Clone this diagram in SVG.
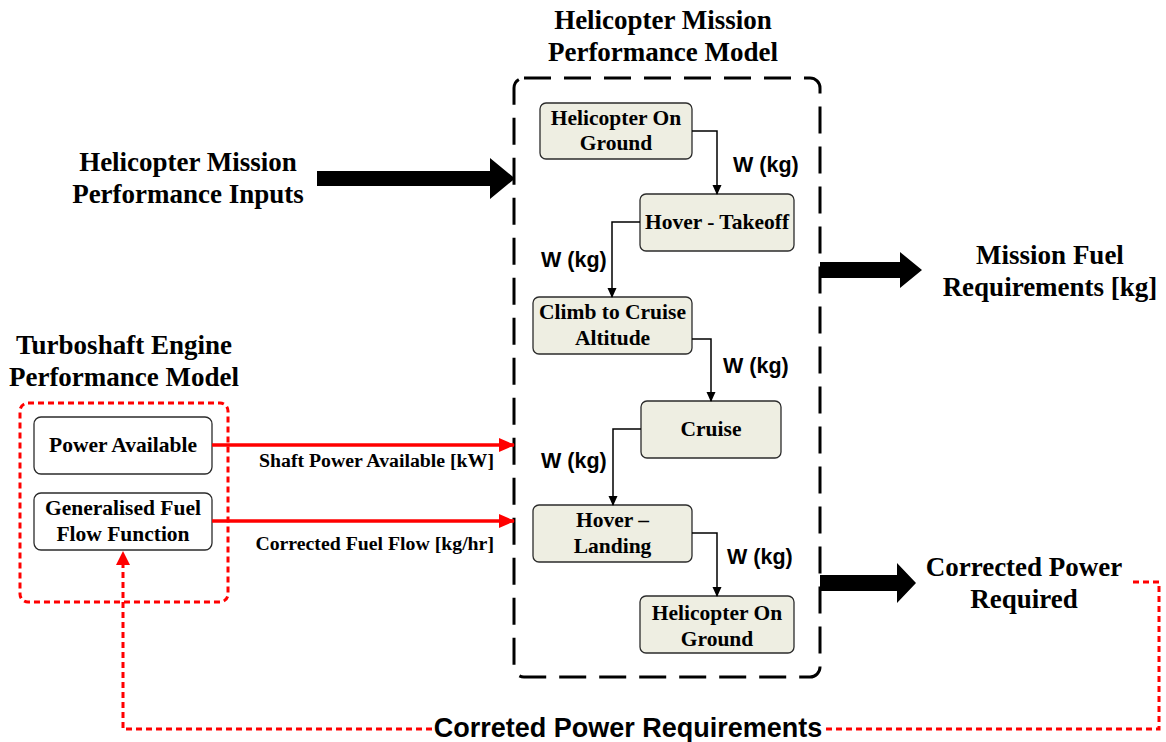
<svg xmlns="http://www.w3.org/2000/svg" width="1166" height="742" viewBox="0 0 1166 742">
  <defs>
    <style>
      .title { font-family: "Liberation Serif", "Times New Roman", serif; font-weight: bold; font-size: 27px; fill: #000; text-anchor: middle; }
      .ntext { font-family: "Liberation Serif", "Times New Roman", serif; font-weight: bold; font-size: 21.5px; fill: #000; text-anchor: middle; }
      .elabel { font-family: "Liberation Serif", "Times New Roman", serif; font-weight: bold; font-size: 19.8px; fill: #000; }
      .wlabel { font-family: "Liberation Sans", Arial, sans-serif; font-weight: bold; font-size: 21.5px; fill: #000; }
      .bottom { font-family: "Liberation Sans", Arial, sans-serif; font-weight: bold; font-size: 27px; fill: #000; text-anchor: middle; }
      .stage { fill: #eeeee2; stroke: #2b2b2b; stroke-width: 1.3; }
      .engine { fill: #ffffff; stroke: #2b2b2b; stroke-width: 1.3; }
      .flow { fill: none; stroke: #000; stroke-width: 1.5; }
      .red { fill: none; stroke: #ff0000; stroke-width: 3.5; }
      .reddot { fill: none; stroke: #ff0000; stroke-width: 3; stroke-dasharray: 6 4; }
      .boundary { fill: none; stroke: #000; stroke-width: 3; stroke-dasharray: 27 13; }
      .fat { fill: #000; }
    </style>
    <marker id="arrowBlack" markerWidth="10" markerHeight="10" refX="9" refY="5" orient="auto" markerUnits="userSpaceOnUse">
      <path d="M0,0.5 L10,5 L0,9.5 Z" fill="#000"/>
    </marker>
    <marker id="arrowRed" markerWidth="16" markerHeight="16" refX="15" refY="8" orient="auto" markerUnits="userSpaceOnUse">
      <path d="M0,1 L16,8 L0,15 Z" fill="#ff0000"/>
    </marker>
  </defs>

  <rect width="1166" height="742" fill="#ffffff"/>

  <!-- mission model boundary -->
  <g id="mission-model">
    <rect class="boundary" x="514" y="78" width="306" height="599" rx="10"/>
    <text class="title" x="663" y="29">Helicopter Mission</text>
    <text class="title" x="663" y="61">Performance Model</text>
  </g>

  <!-- engine model boundary -->
  <g id="engine-model">
    <rect class="reddot" x="20" y="403" width="208" height="199" rx="8"/>
    <text class="title" x="124" y="354">Turboshaft Engine</text>
    <text class="title" x="124" y="386">Performance Model</text>
  </g>

  <!-- mission stages -->
  <g id="stage-ground-start">
    <rect class="stage" x="540" y="103" width="152" height="56" rx="6"/>
    <text class="ntext" x="616" y="125">Helicopter On</text>
    <text class="ntext" x="616" y="150">Ground</text>
  </g>
  <g id="stage-hover-takeoff">
    <rect class="stage" x="640" y="194" width="154" height="57" rx="6"/>
    <text class="ntext" x="717" y="229">Hover - Takeoff</text>
  </g>
  <g id="stage-climb">
    <rect class="stage" x="533" y="297" width="159" height="57" rx="6"/>
    <text class="ntext" x="612.5" y="319">Climb to Cruise</text>
    <text class="ntext" x="612.5" y="345">Altitude</text>
  </g>
  <g id="stage-cruise">
    <rect class="stage" x="641" y="401" width="140" height="57" rx="6"/>
    <text class="ntext" x="711" y="436">Cruise</text>
  </g>
  <g id="stage-hover-landing">
    <rect class="stage" x="533" y="505" width="159" height="57" rx="6"/>
    <text class="ntext" x="612.5" y="527">Hover –</text>
    <text class="ntext" x="612.5" y="553">Landing</text>
  </g>
  <g id="stage-ground-end">
    <rect class="stage" x="640" y="596" width="154" height="57" rx="6"/>
    <text class="ntext" x="717" y="620">Helicopter On</text>
    <text class="ntext" x="717" y="646">Ground</text>
  </g>

  <!-- engine functions -->
  <g id="power-available">
    <rect class="engine" x="34" y="417" width="178" height="57" rx="7"/>
    <text class="ntext" x="123" y="452">Power Available</text>
  </g>
  <g id="fuel-flow-function">
    <rect class="engine" x="34" y="493" width="178" height="57" rx="7"/>
    <text class="ntext" x="123" y="515">Generalised Fuel</text>
    <text class="ntext" x="123" y="541">Flow Function</text>
  </g>

  <!-- external inputs / outputs -->
  <g id="mission-inputs">
    <text class="title" x="188" y="171">Helicopter Mission</text>
    <text class="title" x="188" y="203">Performance Inputs</text>
  </g>
  <g id="fuel-requirements">
    <text class="title" x="1050" y="264">Mission Fuel</text>
    <text class="title" x="1050" y="296">Requirements [kg]</text>
  </g>
  <g id="power-required">
    <text class="title" x="1024" y="576">Corrected Power</text>
    <text class="title" x="1024" y="608">Required</text>
  </g>

  <!-- connectors -->
  <g id="connectors">
    <!-- weight hand-over between stages -->
    <polyline class="flow" points="692,131 717,131 717,194" marker-end="url(#arrowBlack)"/>
    <text class="wlabel" x="733" y="172">W (kg)</text>
    <polyline class="flow" points="640,222 612,222 612,297" marker-end="url(#arrowBlack)"/>
    <text class="wlabel" x="541" y="267">W (kg)</text>
    <polyline class="flow" points="692,339 711,339 711,401" marker-end="url(#arrowBlack)"/>
    <text class="wlabel" x="723" y="373">W (kg)</text>
    <polyline class="flow" points="641,429 613,429 613,505" marker-end="url(#arrowBlack)"/>
    <text class="wlabel" x="541" y="468">W (kg)</text>
    <polyline class="flow" points="692,533 717,533 717,596" marker-end="url(#arrowBlack)"/>
    <text class="wlabel" x="727" y="564">W (kg)</text>

    <!-- block arrows -->
    <polygon class="fat" points="317,171 490,171 490,158 515,178.5 490,199 490,186 317,186"/>
    <polygon class="fat" points="820,262 900,262 900,252 922,270 900,288 900,278 820,278"/>
    <polygon class="fat" points="820,575 897,575 897,563 916,583 897,603 897,591 820,591"/>

    <!-- engine data into mission model -->
    <line class="red" x1="212" y1="445" x2="514" y2="445" marker-end="url(#arrowRed)"/>
    <text class="elabel" x="494" y="467" text-anchor="end">Shaft Power Available [kW]</text>
    <line class="red" x1="212" y1="521" x2="514" y2="521" marker-end="url(#arrowRed)"/>
    <text class="elabel" x="494" y="550" text-anchor="end">Corrected Fuel Flow [kg/hr]</text>

    <!-- corrected power feedback loop -->
    <polyline class="reddot" points="1133,582 1159,582 1159,729 824,729"/>
    <polyline class="reddot" points="432,729 123,729 123,562"/>
    <path d="M116,565 L123,551 L130,565 Z" fill="#ff0000"/>
    <text class="bottom" x="628" y="737">Correted Power Requirements</text>
  </g>
</svg>
